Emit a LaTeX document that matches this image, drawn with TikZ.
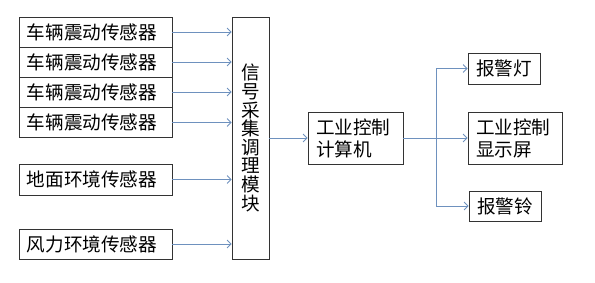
\documentclass[tikz,border=0pt]{standalone}
\usepackage{fontspec}
\setmainfont{Noto Sans CJK SC}
\usetikzlibrary{arrows.meta}
\definecolor{linkblue}{RGB}{110,145,190}
\tikzset{
  box/.style={draw=black!80, line width=0.8pt, inner xsep=8pt, inner ysep=0pt,
    font=\fontsize{18.6}{22}\selectfont, align=left},
  arr/.style={draw=linkblue, line width=0.8pt, -{Straight Barb[length=4pt,width=8pt]}},
}
\begin{document}
\begin{tikzpicture}[x=1pt,y=-1pt]
\useasboundingbox (0,0) rectangle (595,282);
% sensors
\node[box, text width=137pt, minimum height=30pt] (s1) at (95.5,32) {车辆震动传感器};
\node[box, text width=137pt, minimum height=30pt] (s2) at (95.5,62) {车辆震动传感器};
\node[box, text width=137pt, minimum height=30pt] (s3) at (95.5,92) {车辆震动传感器};
\node[box, text width=137pt, minimum height=30pt] (s4) at (95.5,122.5) {车辆震动传感器};
\node[box, text width=137pt, minimum height=31pt] (ground) at (95.5,179.5) {地面环境传感器};
\node[box, text width=137pt, minimum height=30pt] (wind) at (95.5,244) {风力环境传感器};
% signal module
\node[box, inner xsep=0pt, minimum width=37pt, minimum height=242pt, align=center,
  font=\fontsize{18.6}{18.6}\selectfont] (mod) at (250.5,138) {信\\号\\采\\集\\调\\理\\模\\块};
% computer and outputs
\node[box, text width=79pt, minimum height=52pt] (pc) at (355.5,138) {工业控制\\计算机};
\node[box, text width=56pt, minimum height=31pt] (light) at (504,68.5) {报警灯};
\node[box, text width=78pt, minimum height=52pt] (disp) at (515,138) {工业控制\\显示屏};
\node[box, text width=56pt, minimum height=30pt] (bell) at (505,206) {报警铃};
\coordinate (br) at (436,138);

\foreach \s in {s1,s2,s3,s4,ground,wind}
  \draw[arr] (\s.east) -- (\s.east -| mod.west);
\draw[arr] (mod.east |- pc.west) -- (pc.west);
\draw[arr] (pc.east) -- (disp.west);
\draw[arr] (br) |- (light.west);
\draw[arr] (br) |- (bell.west);
\end{tikzpicture}
\end{document}
